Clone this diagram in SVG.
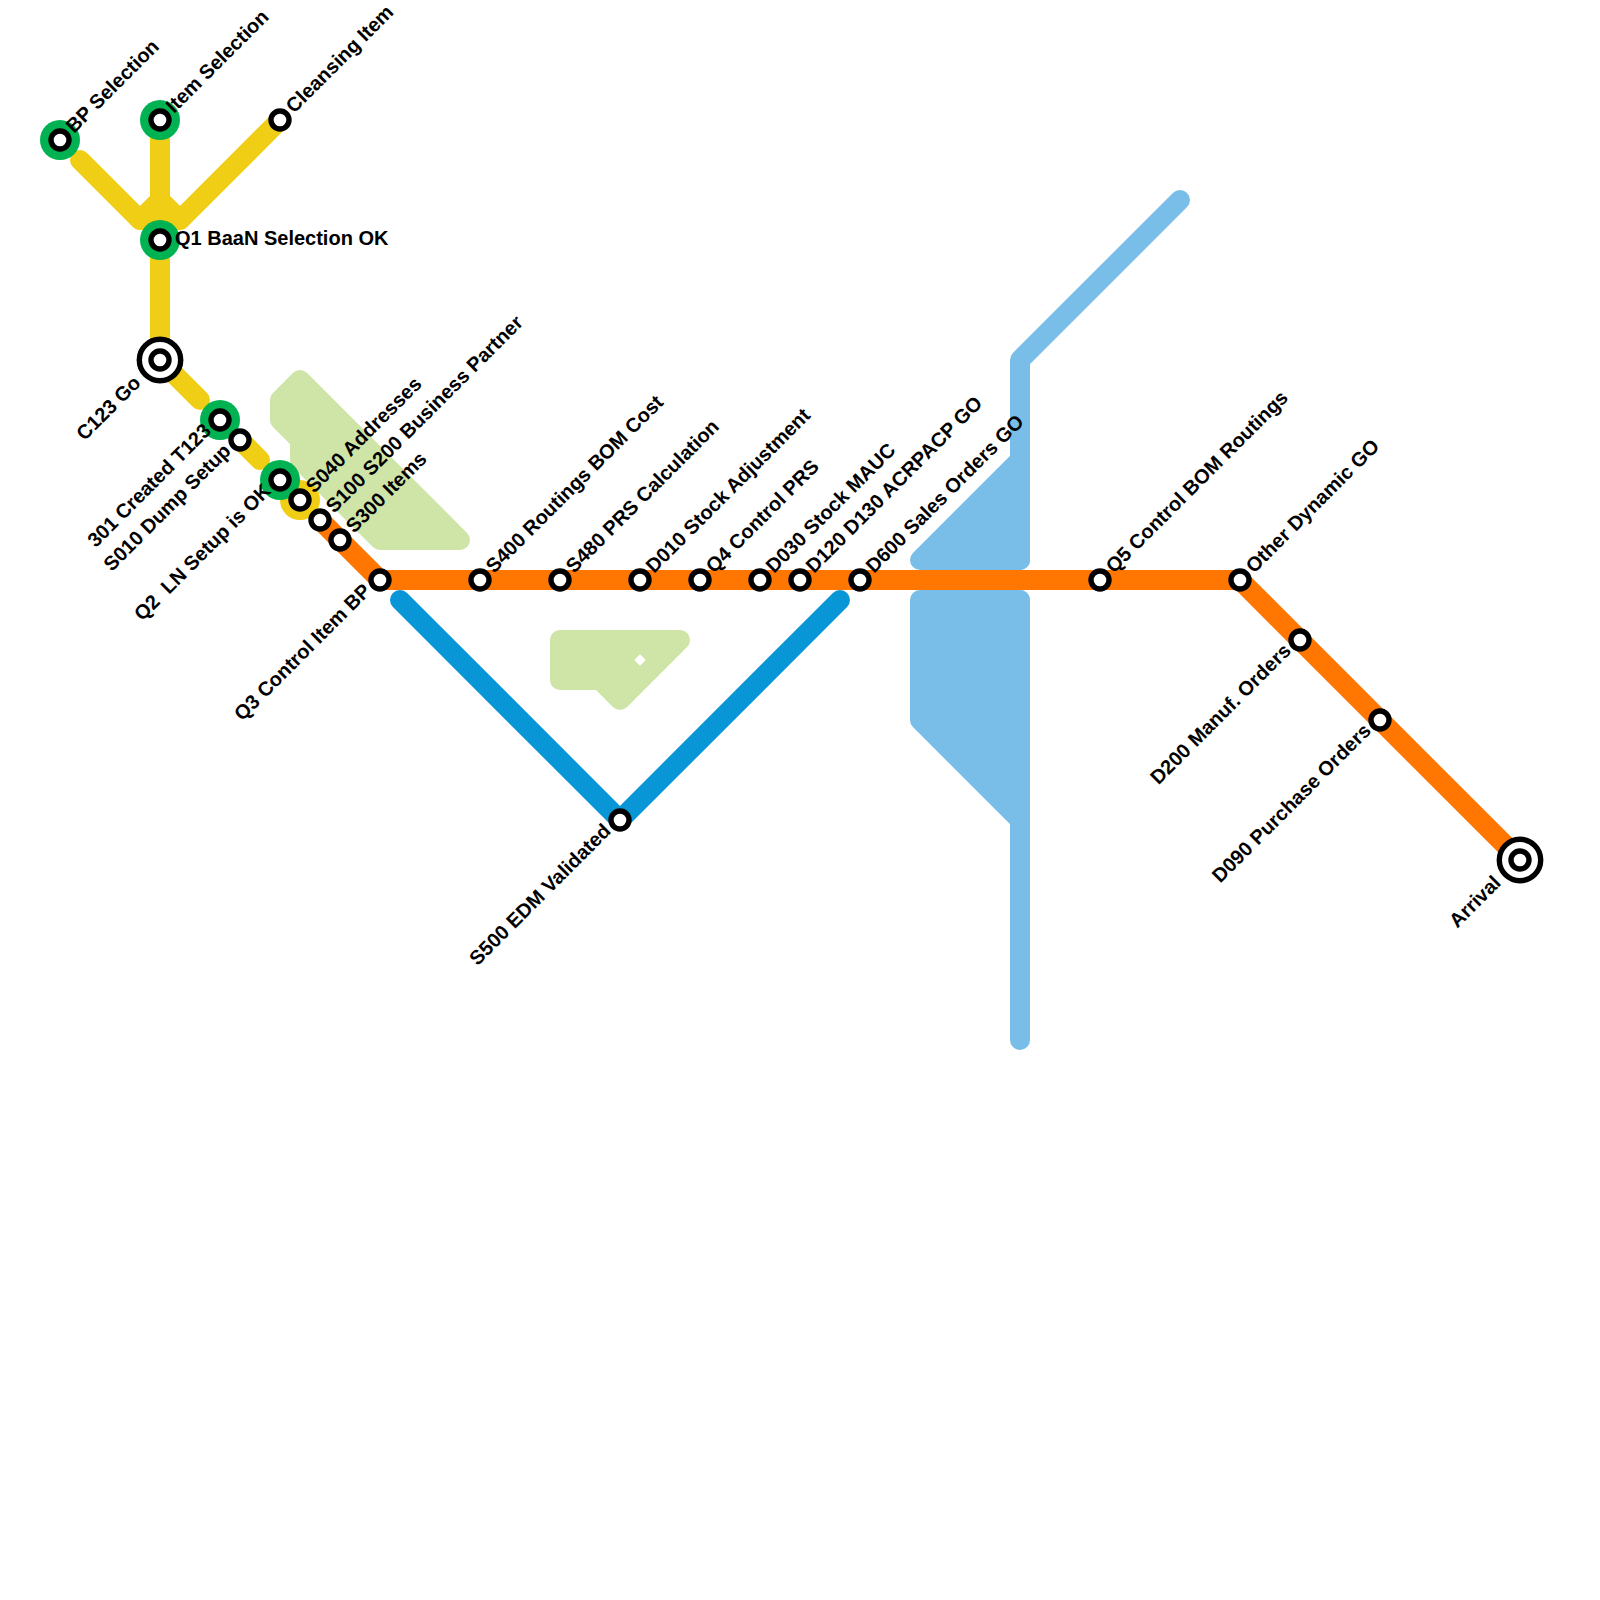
<svg xmlns="http://www.w3.org/2000/svg" width="1600" height="1600" viewBox="0 0 1600 1600">
<style>
.l{fill:none;stroke-width:20;stroke-linecap:round;stroke-linejoin:round}
.y{stroke:#f0ce15}.o{stroke:#ff7700}.b{stroke:#0896d7}.c{stroke:#79bde9}
.a{fill:#cfe4a7;stroke:#cfe4a7;stroke-width:20;stroke-linejoin:round}
.f{fill:#79bde9;stroke:#79bde9;stroke-width:20;stroke-linejoin:round}
.r{fill:#fff;stroke:#000;stroke-width:5.4}
.t{fill:#fff;stroke:#000;stroke-width:5.4}
.g{fill:#00b251}.h{fill:#f0ce15}
text{font-family:"Liberation Sans",Arial,sans-serif;font-weight:700;font-size:20px;fill:#000;white-space:pre}
.e{text-anchor:end}
</style>
<g id="areas">
<polygon class="a" points="300,380 460,540 380,540 300,460 300,440 280,420 280,400"/>
<polygon class="a" points="560,640 680,640 620,700 600,680 560,680"/>
<polygon points="640,654.3 645.7,660 640,665.7 634.3,660" fill="#fff"/>
<polygon class="f" points="920,560 1020,460 1020,560"/>
<polygon class="f" points="920,600 1020,600 1020,820 920,720"/>
</g>
<g id="connectors">
<path class="l c" d="M1020,1040V600"/>
<path class="l c" d="M1020,560V360L1180,200"/>
<path class="l b" d="M400,600L620,820L840,600"/>
<path class="l y" d="M160,120V360"/>
<path class="l y" d="M80,160L140,220H180L280,120"/>
<path class="l y" d="M140,220L160,200L180,220"/>
<path class="l y" d="M160,360L200,400"/>
<path class="l y" d="M240,440L260,460"/>
<path class="l o" d="M320,520L380,580H1240L1520,860"/>
<circle class="h" cx="300" cy="500" r="20"/>
</g>
<g id="n-bp"><circle class="g" cx="60" cy="140" r="20"/><circle class="r" cx="60" cy="140" r="9"/><text transform="translate(74,134) rotate(-45)">BP Selection</text></g>
<g id="n-item"><circle class="g" cx="160" cy="120" r="20"/><circle class="r" cx="160" cy="120" r="9"/><text transform="translate(174,114) rotate(-45)">Item Selection</text></g>
<g id="n-cleansing"><circle class="r" cx="280" cy="120" r="9"/><text transform="translate(294,114) rotate(-45)">Cleansing Item</text></g>
<g id="n-q1"><circle class="g" cx="160" cy="240" r="20"/><circle class="r" cx="160" cy="240" r="9"/><text x="175" y="245">Q1 BaaN Selection OK</text></g>
<g id="n-c123"><circle class="t" cx="160" cy="360" r="20.7"/><circle class="r" cx="160" cy="360" r="9"/><text class="e" transform="translate(142,384) rotate(-45)">C123 Go</text></g>
<g id="n-301"><circle class="g" cx="220" cy="420" r="20"/><circle class="r" cx="220" cy="420" r="9"/><text class="e" transform="translate(212,432) rotate(-45)">301 Created T123</text></g>
<g id="n-s010"><circle class="r" cx="240" cy="440" r="9"/><text class="e" transform="translate(232,452) rotate(-45)">S010 Dump Setup</text></g>
<g id="n-q2"><circle class="g" cx="280" cy="480" r="20"/><circle class="r" cx="280" cy="480" r="9"/><text class="e" transform="translate(272,492) rotate(-45)">Q2  LN Setup is OK</text></g>
<g id="n-s040"><circle class="r" cx="300" cy="500" r="9"/><text transform="translate(314,494) rotate(-45)">S040 Addresses</text></g>
<g id="n-s100"><circle class="r" cx="320" cy="520" r="9"/><text transform="translate(334,514) rotate(-45)">S100 S200 Business Partner</text></g>
<g id="n-s300"><circle class="r" cx="340" cy="540" r="9"/><text transform="translate(354,534) rotate(-45)">S300 Items</text></g>
<g id="n-q3"><circle class="r" cx="380" cy="580" r="9"/><text class="e" transform="translate(372,592) rotate(-45)">Q3 Control Item BP</text></g>
<g id="n-s400"><circle class="r" cx="480" cy="580" r="9"/><text transform="translate(494,574) rotate(-45)">S400 Routings BOM Cost</text></g>
<g id="n-s480"><circle class="r" cx="560" cy="580" r="9"/><text transform="translate(574,574) rotate(-45)">S480 PRS Calculation</text></g>
<g id="n-d010"><circle class="r" cx="640" cy="580" r="9"/><text transform="translate(654,574) rotate(-45)">D010 Stock Adjustment</text></g>
<g id="n-q4"><circle class="r" cx="700" cy="580" r="9"/><text transform="translate(714,574) rotate(-45)">Q4 Control PRS</text></g>
<g id="n-d030"><circle class="r" cx="760" cy="580" r="9"/><text transform="translate(774,574) rotate(-45)">D030 Stock MAUC</text></g>
<g id="n-d120"><circle class="r" cx="800" cy="580" r="9"/><text transform="translate(814,574) rotate(-45)">D120 D130 ACRPACP GO</text></g>
<g id="n-d600"><circle class="r" cx="860" cy="580" r="9"/><text transform="translate(874,574) rotate(-45)">D600 Sales Orders GO</text></g>
<g id="n-q5"><circle class="r" cx="1100" cy="580" r="9"/><text transform="translate(1114,574) rotate(-45)">Q5 Control BOM Routings</text></g>
<g id="n-other"><circle class="r" cx="1240" cy="580" r="9"/><text transform="translate(1254,574) rotate(-45)">Other Dynamic GO</text></g>
<g id="n-d200"><circle class="r" cx="1300" cy="640" r="9"/><text class="e" transform="translate(1292,652) rotate(-45)">D200 Manuf. Orders</text></g>
<g id="n-d090"><circle class="r" cx="1380" cy="720" r="9"/><text class="e" transform="translate(1372,732) rotate(-45)">D090 Purchase Orders</text></g>
<g id="n-arrival"><circle class="t" cx="1520" cy="860" r="20.7"/><circle class="r" cx="1520" cy="860" r="9"/><text class="e" transform="translate(1502,884) rotate(-45)">Arrival</text></g>
<g id="n-s500"><circle class="r" cx="620" cy="820" r="9"/><text class="e" transform="translate(612,832) rotate(-45)">S500 EDM Validated</text></g>
</svg>
